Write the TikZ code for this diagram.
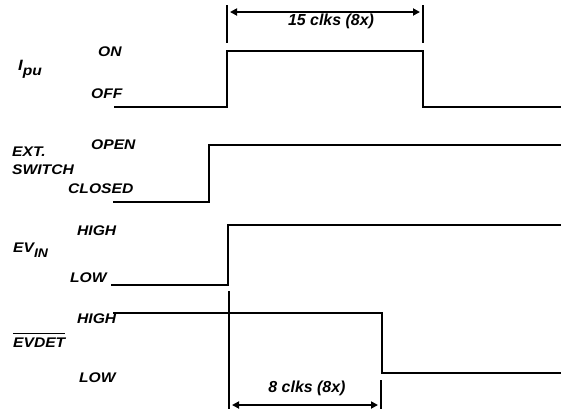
\documentclass[tikz,border=0pt]{standalone}
\usepackage{fontspec}
\setmainfont{Liberation Sans}
\usetikzlibrary{arrows.meta}
\tikzset{
  wave/.style={line width=1.8bp, line join=miter},
  dimline/.style={line width=1.8bp},
  dimarrow/.style={line width=1.8bp, shorten <=3bp, shorten >=3bp, {Triangle[length=7bp,width=7bp]}-{Triangle[length=7bp,width=7bp]}},
  lbl/.style={inner sep=0pt, anchor=base west, font=\fontsize{14}{16}\selectfont\bfseries\itshape},
  dimlbl/.style={inner sep=0pt, anchor=base, font=\fontsize{16}{18}\selectfont\bfseries\itshape},
}
\newcommand{\sx}[1]{\scalebox{1.12}[1]{#1}}
\begin{document}
\begin{tikzpicture}[x=1bp,y=-1bp]
\useasboundingbox (0,0) rectangle (561,411);
% signal names
\node[lbl] (ipu) at (18,70) {\sx{\fontsize{15}{16}\selectfont I\raisebox{-5bp}{\fontsize{14}{16}\selectfont pu}}};
\node[lbl] (ext) at (12,156) {\sx{EXT.}};
\node[lbl] (sw) at (12,174) {\sx{SWITCH}};
\node[lbl] (evin) at (13,252) {\sx{EV\raisebox{-5bp}{\fontsize{12.5}{14}\selectfont IN}}};
\node[lbl] (evdet) at (13,347) {\sx{EVDET}};
\draw[line width=1.2bp] ([yshift=4bp]evdet.north west) -- ([yshift=4bp]evdet.north east);
% state labels
\node[lbl] (on) at (98,56) {\sx{ON}};
\node[lbl] (off) at (91,98) {\sx{OFF}};
\node[lbl] (open) at (91,149) {\sx{OPEN}};
\node[lbl] (closed) at (68,193) {\sx{CLOSED}};
\node[lbl] (hi1) at (77,235) {\sx{HIGH}};
\node[lbl] (lo1) at (70,282) {\sx{LOW}};
\node[lbl] (hi2) at (77,323) {\sx{HIGH}};
\node[lbl] (lo2) at (79,382) {\sx{LOW}};
% waveforms
\draw[wave] (114,107) -- (227,107) -- (227,51) -- (423,51) -- (423,107) -- (561,107);
\draw[wave] (113,202) -- (209,202) -- (209,145) -- (561,145);
\draw[wave] (111,285) -- (228,285) -- (228,225) -- (561,225);
\draw[wave] (113,313) -- (382,313) -- (382,373) -- (561,373);
% top dimension
\coordinate (t1a) at (227,5); \coordinate (t1b) at (227,43);
\coordinate (t2a) at (423,5); \coordinate (t2b) at (423,43);
\coordinate (ta1) at (227,12); \coordinate (ta2) at (423,12);
\draw[dimline] (t1a) -- (t1b);
\draw[dimline] (t2a) -- (t2b);
\draw[dimarrow] (ta1) -- (ta2);
\node[dimlbl] (t15) at (331,25) {15 clks (8x)};
% bottom dimension
\coordinate (b1a) at (229,291); \coordinate (b1b) at (229,409);
\coordinate (b2a) at (381,380); \coordinate (b2b) at (381,409);
\coordinate (ba1) at (229,405); \coordinate (ba2) at (381,405);
\draw[dimline] (b1a) -- (b1b);
\draw[dimline] (b2a) -- (b2b);
\draw[dimarrow] (ba1) -- (ba2);
\node[dimlbl] (b8) at (307,392) {8 clks (8x)};
\end{tikzpicture}
\end{document}
